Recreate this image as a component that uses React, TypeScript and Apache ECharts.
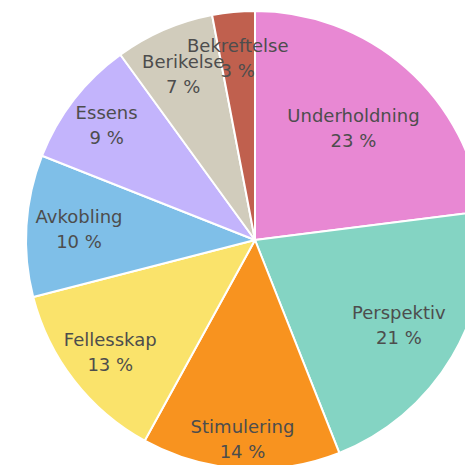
import React, { useEffect, useRef } from "react";
import * as echarts from "echarts";

const categories = [
  "Underholdning",
  "Perspektiv",
  "Stimulering",
  "Fellesskap",
  "Avkobling",
  "Essens",
  "Berikelse",
  "Bekreftelse",
];
const values = [23, 21, 14, 13, 10, 9, 7, 3];

const colors = ["#E888D3", "#84D4C3", "#F8931F", "#FAE36B", "#7FBFE8", "#C3B4FC", "#D1CCBC", "#C0604E"];
// radial position of each label, as a fraction of the radius
const labelRadius = [0.65, 0.73, 0.87, 0.8, 0.77, 0.82, 0.79, 0.8];

const CX = 255;
const CY = 240;
const R = 229;

export default function App() {
  const ref = useRef<HTMLDivElement>(null);
  useEffect(() => {
    if (!ref.current) return;
    const chart = echarts.init(ref.current, null, { renderer: "svg" });
    const total = values.reduce((a, b) => a + b, 0);
    const mids: number[] = [];
    let acc = 0;
    values.forEach((v) => {
      const start = 90 - (acc / total) * 360;
      acc += v;
      const end = 90 - (acc / total) * 360;
      mids.push(((start + end) / 2) * (Math.PI / 180));
    });
    chart.setOption({
      animation: false,
      backgroundColor: "#ffffff",
      series: [
        {
          type: "pie",
          center: [CX, CY],
          radius: [0, R],
          startAngle: 90,
          clockwise: true,
          avoidLabelOverlap: false,
          data: categories.map((name, i) => ({
            name,
            value: values[i],
            itemStyle: { color: colors[i] },
          })),
          itemStyle: { borderColor: "#ffffff", borderWidth: 2 },
          label: {
            show: true,
            position: "inside",
            formatter: (p: any) => `${p.name}\n${p.value} %`,
            fontFamily: "DejaVu Sans",
            fontSize: 18,
            lineHeight: 25,
            color: "#4d4d4d",
            align: "center",
          },
          labelLine: { show: false },
          emphasis: { disabled: true },
          labelLayout: (params: any) => {
            const i = params.dataIndex;
            const a = mids[i];
            const rr = labelRadius[i] * R;
            return {
              x: CX + rr * Math.cos(a),
              y: CY - rr * Math.sin(a),
              align: "center",
              verticalAlign: "middle",
            };
          },
        },
      ],
    });
    return () => chart.dispose();
  }, []);
  return (
    <div
      ref={ref}
      style={{ position: "fixed", left: 0, top: 0, width: 465, height: 465, background: "#fff" }}
    />
  );
}
